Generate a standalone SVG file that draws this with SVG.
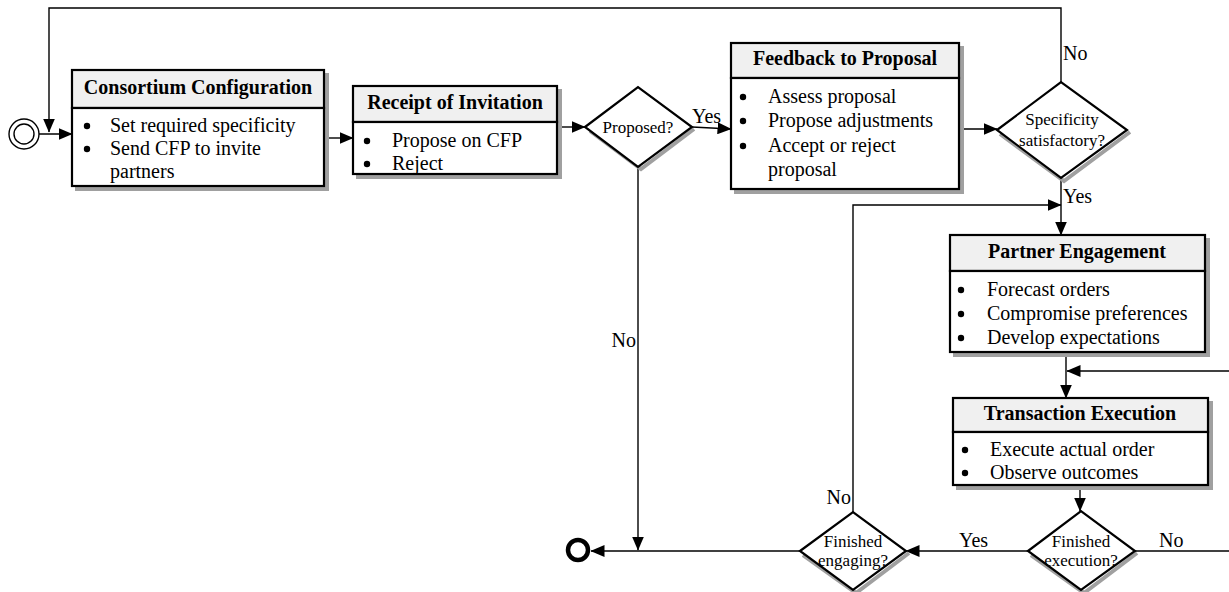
<svg xmlns="http://www.w3.org/2000/svg" width="1229" height="592" viewBox="0 0 1229 592">
  <style>
    text { font-family: "Liberation Serif", "Times New Roman", serif; fill: #000; }
    .title { font-size: 20px; font-weight: bold; text-anchor: middle; }
    .item { font-size: 20px; }
    .dtext { font-size: 17px; text-anchor: middle; }
    .lbl { font-size: 20px; }
    .shadow { fill: #a0a0a0; stroke: #a0a0a0; stroke-width: 2; }
    .head { fill: #f0f0f0; stroke: #000; stroke-width: 2.2; }
    .body { fill: #fff; stroke: #000; stroke-width: 2.2; }
    .diamond { fill: #fff; stroke: #000; stroke-width: 2.2; }
    .dshadow { fill: none; stroke: #a0a0a0; stroke-width: 4; }
    .conn { fill: none; stroke: #000; stroke-width: 1.4; }
    .dot { fill: #000; }
  </style>
  <defs>
    <marker id="arr" markerWidth="14" markerHeight="12" refX="13.5" refY="6" orient="auto" markerUnits="userSpaceOnUse">
      <path d="M0,0 L14,6 L0,12 Z" fill="#000"/>
    </marker>
  </defs>

  <!-- connectors -->
  <g id="connectors">
    <!-- start -> consortium configuration -->
    <path class="conn" d="M39,134 H72" marker-end="url(#arr)"/>
    <!-- loop back from specificity check (No) -->
    <path class="conn" d="M1061,82 V8 H49 V132" marker-end="url(#arr)"/>
    <!-- consortium -> receipt -->
    <path class="conn" d="M324,138 H353" marker-end="url(#arr)"/>
    <!-- receipt -> proposed? -->
    <path class="conn" d="M557,127 H585" marker-end="url(#arr)"/>
    <!-- proposed? yes -> feedback -->
    <path class="conn" d="M692,127 L731,129" marker-end="url(#arr)"/>
    <!-- feedback -> specificity -->
    <path class="conn" d="M959,129 H997" marker-end="url(#arr)"/>
    <!-- specificity yes -> partner engagement -->
    <path class="conn" d="M1061,178 V235" marker-end="url(#arr)"/>
    <!-- finished engaging no -> back to partner engagement -->
    <path class="conn" d="M853,512 V205 H1061" marker-end="url(#arr)"/>
    <!-- partner engagement -> transaction execution -->
    <path class="conn" d="M1066,352 V398" marker-end="url(#arr)"/>
    <!-- finished execution no -> back into transaction execution -->
    <path class="conn" d="M1229,371 H1067" marker-end="url(#arr)"/>
    <!-- transaction -> finished execution? -->
    <path class="conn" d="M1080,485 V511" marker-end="url(#arr)"/>
    <!-- finished execution yes -> finished engaging -->
    <path class="conn" d="M1028,551 H906" marker-end="url(#arr)"/>
    <!-- finished execution no, runs off to the right -->
    <path class="conn" d="M1135,551 H1229"/>
    <!-- finished engaging yes -> end -->
    <path class="conn" d="M800,551 H591" marker-end="url(#arr)"/>
    <!-- proposed? no -> end line -->
    <path class="conn" d="M638,167 V550" marker-end="url(#arr)"/>

    <text class="lbl" x="692" y="123">Yes</text>
    <text class="lbl" x="1063" y="60">No</text>
    <text class="lbl" x="1063" y="203">Yes</text>
    <text class="lbl" x="636" y="347" text-anchor="end">No</text>
    <text class="lbl" x="851" y="504" text-anchor="end">No</text>
    <text class="lbl" x="959" y="547">Yes</text>
    <text class="lbl" x="1159" y="547">No</text>
  </g>

  <!-- start / end -->
  <g id="start">
    <circle cx="24" cy="134" r="15" fill="#fff" stroke="#000" stroke-width="1.4"/>
    <circle cx="24" cy="134" r="10" fill="#fff" stroke="#000" stroke-width="1.4"/>
  </g>
  <g id="end">
    <circle cx="578" cy="550" r="10" fill="#fff" stroke="#000" stroke-width="4.5"/>
  </g>

  <!-- Consortium Configuration -->
  <g id="consortium">
    <rect class="shadow" x="76" y="74" width="252" height="116"/>
    <rect class="head" x="72" y="70" width="252" height="38"/>
    <rect class="body" x="72" y="108" width="252" height="78"/>
    <text class="title" x="198" y="94">Consortium Configuration</text>
    <circle class="dot" cx="87" cy="126" r="3.2"/><text class="item" x="110" y="132">Set required specificity</text>
    <circle class="dot" cx="87" cy="149" r="3.2"/><text class="item" x="110" y="155">Send CFP to invite</text>
    <text class="item" x="110" y="178">partners</text>
  </g>

  <!-- Receipt of Invitation -->
  <g id="receipt">
    <rect class="shadow" x="357" y="90" width="204" height="88"/>
    <rect class="head" x="353" y="86" width="204" height="36"/>
    <rect class="body" x="353" y="122" width="204" height="52"/>
    <text class="title" x="455" y="109">Receipt of Invitation</text>
    <circle class="dot" cx="367" cy="141" r="3.2"/><text class="item" x="392" y="147">Propose on CFP</text>
    <circle class="dot" cx="367" cy="164" r="3.2"/><text class="item" x="392" y="170">Reject</text>
  </g>

  <!-- Proposed? -->
  <g id="proposed">
    <path class="dshadow" d="M694,129 L641,169 L590,131"/>
    <path class="diamond" d="M585,127 L638,87 L692,127 L638,167 Z"/>
    <text class="dtext" x="638" y="133">Proposed?</text>
  </g>

  <!-- Feedback to Proposal -->
  <g id="feedback">
    <rect class="shadow" x="735" y="47" width="228" height="146"/>
    <rect class="head" x="731" y="43" width="228" height="35"/>
    <rect class="body" x="731" y="78" width="228" height="111"/>
    <text class="title" x="845" y="65">Feedback to Proposal</text>
    <circle class="dot" cx="743" cy="97" r="3.2"/><text class="item" x="768" y="103">Assess proposal</text>
    <circle class="dot" cx="743" cy="121" r="3.2"/><text class="item" x="768" y="127">Propose adjustments</text>
    <circle class="dot" cx="743" cy="146" r="3.2"/><text class="item" x="768" y="152">Accept or reject</text>
    <text class="item" x="768" y="176">proposal</text>
  </g>

  <!-- Specificity satisfactory? -->
  <g id="specificity">
    <path class="dshadow" d="M1130,132 L1064,181 L1000,134"/>
    <path class="diamond" d="M997,130 L1061,82 L1127,130 L1061,178 Z"/>
    <text class="dtext" x="1062" y="125">Specificity</text>
    <text class="dtext" x="1062" y="146">satisfactory?</text>
  </g>

  <!-- Partner Engagement -->
  <g id="partner">
    <rect class="shadow" x="954" y="239" width="255" height="117"/>
    <rect class="head" x="950" y="235" width="255" height="36"/>
    <rect class="body" x="950" y="271" width="255" height="81"/>
    <text class="title" x="1077" y="258">Partner Engagement</text>
    <circle class="dot" cx="961" cy="290" r="3.2"/><text class="item" x="987" y="296">Forecast orders</text>
    <circle class="dot" cx="961" cy="314" r="3.2"/><text class="item" x="987" y="320">Compromise preferences</text>
    <circle class="dot" cx="961" cy="338" r="3.2"/><text class="item" x="987" y="344">Develop expectations</text>
  </g>

  <!-- Transaction Execution -->
  <g id="transaction">
    <rect class="shadow" x="957" y="402" width="255" height="87"/>
    <rect class="head" x="953" y="398" width="255" height="34"/>
    <rect class="body" x="953" y="432" width="255" height="53"/>
    <text class="title" x="1080" y="420">Transaction Execution</text>
    <circle class="dot" cx="965" cy="450" r="3.2"/><text class="item" x="990" y="456">Execute actual order</text>
    <circle class="dot" cx="965" cy="473" r="3.2"/><text class="item" x="990" y="479">Observe outcomes</text>
  </g>

  <!-- Finished execution? -->
  <g id="finished-execution">
    <path class="dshadow" d="M1137,553 L1084,593 L1031,555"/>
    <path class="diamond" d="M1028,551 L1081,511 L1135,551 L1081,590 Z"/>
    <text class="dtext" x="1081" y="547">Finished</text>
    <text class="dtext" x="1081" y="566">execution?</text>
  </g>

  <!-- Finished engaging? -->
  <g id="finished-engaging">
    <path class="dshadow" d="M909,553 L856,593 L803,555"/>
    <path class="diamond" d="M800,551 L853,512 L906,551 L853,590 Z"/>
    <text class="dtext" x="853" y="547">Finished</text>
    <text class="dtext" x="853" y="566">engaging?</text>
  </g>
</svg>
